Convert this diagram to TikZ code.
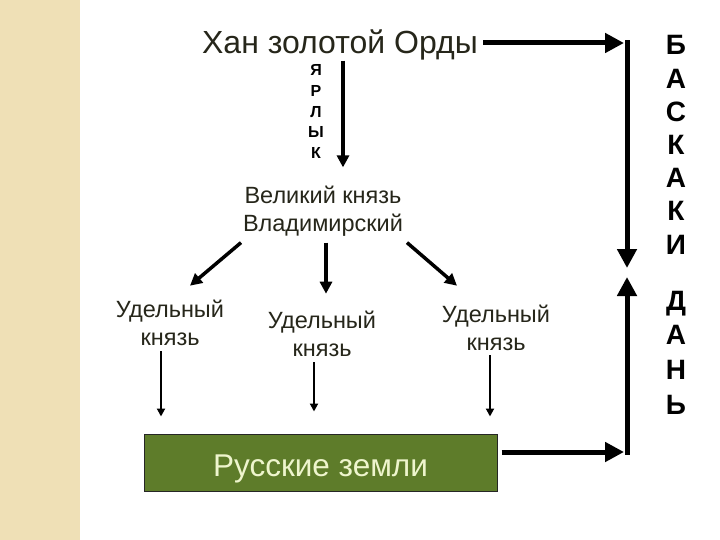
\documentclass[tikz,border=0pt]{standalone}
\usepackage{fontspec}
\setmainfont{Liberation Sans}
\usetikzlibrary{arrows.meta,positioning}
\definecolor{strip}{RGB}{239,224,182}
\definecolor{olive}{RGB}{94,124,42}
\definecolor{ink}{RGB}{38,38,26}
\definecolor{pale}{RGB}{238,245,205}

\begin{document}
\begin{tikzpicture}[x=1pt,y=-1pt,
  lbl/.style={inner sep=0,text=ink,align=center,font=\fontsize{23.5}{28.5}\selectfont},
  ttl/.style={inner sep=0,text=ink,font=\fontsize{32}{36}\selectfont,text height=23pt,text depth=0pt},
  vlet/.style={inner sep=0,font=\bfseries\fontsize{28}{28}\selectfont,text height=20pt,text depth=0pt},
  ylet/.style={inner sep=0,font=\bfseries\fontsize{16}{16}\selectfont,text height=11.5pt,text depth=0pt},
  bigarr/.style={line width=5pt,-{Triangle[length=19pt,width=19pt]}},
  midarr/.style={line width=3.5pt,-{Triangle[length=12pt,width=12pt]}},
  thinarr/.style={line width=2.2pt,-{Triangle[length=8pt,width=8pt]}}]
\useasboundingbox (0,0) rectangle (720,540);
\fill[strip] (0,0) rectangle (80,540);

\node[ttl] (khan) at (340,42) {Хан золотой Орды};
\node[lbl] (velikiy) at (323,211) {Великий князь\\Владимирский};
\node[lbl] (ud1) at (170,323) {Удельный\\князь};
\node[lbl] (ud2) at (322,334) {Удельный\\князь};
\node[lbl] (ud3) at (496,328) {Удельный\\князь};
\node[draw=black!85,line width=1pt,fill=olive,text=pale,inner sep=0,minimum width=353pt,minimum height=57pt,
  text height=28pt,text depth=0pt,font=\fontsize{31.5}{36}\selectfont] (zemli) at (320.5,462.5) {Русские земли};

% vertical words
\foreach \l [count=\i] in {Я,Р,Л,Ы,К}
  \node[ylet] (y\i) at (316,{70+(\i-1)*20.75}) {\l};
\foreach \l [count=\i] in {Б,А,С,К,А,К,И}
  \node[vlet] (b\i) at (676,{45+(\i-1)*33.2}) {\l};
\foreach \l [count=\i] in {Д,А,Н,Ь}
  \node[vlet] (d\i) at (676,{300+(\i-1)*34.7}) {\l};

\coordinate (cTop) at (627,43);
\coordinate (cDown) at (627,268);
\coordinate (cUp) at (627,277);
\coordinate (cBot) at (627,452);

\draw[midarr] ([xshift=3pt,yshift=-7pt]khan.south) -- ([xshift=20pt,yshift=18pt]velikiy.north);
\draw[midarr] ([xshift=-82pt,yshift=-6pt]velikiy.south) -- ([xshift=20pt,yshift=14pt]ud1.north);
\draw[midarr] ([xshift=3pt,yshift=-6pt]velikiy.south) -- ([xshift=4pt,yshift=17pt]ud2.north);
\draw[midarr] ([xshift=84pt,yshift=-6pt]velikiy.south) -- ([xshift=-39pt,yshift=19pt]ud3.north);

\draw[thinarr,shorten <=5pt,shorten >=17pt] ([xshift=-9pt]ud1.south) -- ([xshift=-9pt]ud1.south |- zemli.north);
\draw[thinarr,shorten <=5pt,shorten >=22pt] ([xshift=-8pt]ud2.south) -- ([xshift=-8pt]ud2.south |- zemli.north);
\draw[thinarr,shorten <=4pt,shorten >=17pt] ([xshift=-6pt]ud3.south) -- ([xshift=-6pt]ud3.south |- zemli.north);

\draw[bigarr,shorten <=5pt,shorten >=3pt] (khan.east |- cTop) -- (cTop);
\draw[bigarr] ([yshift=2.5pt]cTop) -- (cDown);
\draw[bigarr,shorten <=4pt,shorten >=3pt] (zemli.east |- cBot) -- (cBot);
\draw[bigarr] ([yshift=-2.5pt]cBot) -- (cUp);
\end{tikzpicture}
\end{document}
